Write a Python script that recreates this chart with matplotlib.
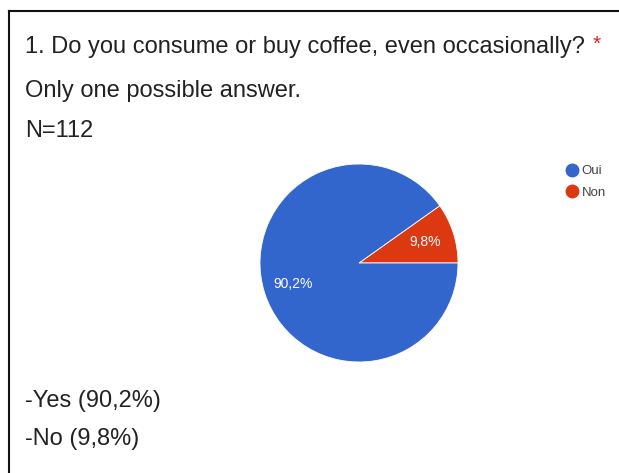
import matplotlib
matplotlib.use("Agg")
import matplotlib.pyplot as plt
from matplotlib.lines import Line2D

plt.rcParams['font.family'] = ['Liberation Sans', 'DejaVu Sans']

# survey answers (N=112)
labels = ['Oui', 'Non']
counts = [101, 11]
colors = ['#3366CC', '#DC3912']
question = '1. Do you consume or buy coffee, even occasionally?'
lines_top = ['Only one possible answer.', 'N=112']
lines_bottom = ['-Yes (90,2%)', '-No (9,8%)']

W, H = 619, 473
fig = plt.figure(figsize=(W / 100, H / 100), dpi=100)
fig.patch.set_facecolor('white')

def px(x, y):
    # pixel coords (from top-left) -> figure fraction
    return x / W, 1 - y / H

# box frame: top and left edges only visible
fig.add_artist(Line2D([px(9, 0)[0], 1.0], [px(0, 11)[1]] * 2, color='#111111', lw=1.5))
fig.add_artist(Line2D([px(9, 0)[0]] * 2, [px(0, 11)[1], 0.0], color='#111111', lw=1.5))

txt_color = '#222222'
fs = 17
fig.text(*px(25, 53), question, fontsize=fs, color=txt_color, va='baseline')
fig.text(*px(593, 50), '*', fontsize=15, color='#E02020', va='baseline')
fig.text(*px(25, 97), lines_top[0], fontsize=fs, color=txt_color, va='baseline')
fig.text(*px(25, 137), lines_top[1], fontsize=fs, color=txt_color, va='baseline')
fig.text(*px(25, 407), lines_bottom[0], fontsize=fs, color=txt_color, va='baseline')
fig.text(*px(25, 445), lines_bottom[1], fontsize=fs, color=txt_color, va='baseline')

# pie: centre (359, 263), radius 99 px
cx, cy, r = 359, 263, 99
ax = fig.add_axes([(cx - r) / W, (H - cy - r) / H, 2 * r / W, 2 * r / H])
order = [1, 0]  # red slice starts at 3 o'clock going counter-clockwise
wedges, _, autotexts = ax.pie([counts[i] for i in order],
                              colors=[colors[i] for i in order],
                              startangle=0, counterclock=True,
                              autopct=lambda p: f'{p:.1f}%'.replace('.', ','),
                              pctdistance=0.7,
                              wedgeprops=dict(linewidth=0.6, edgecolor='white'),
                              textprops=dict(color='white', fontsize=10))
ax.set_xlim(-1, 1)
ax.set_ylim(-1, 1)
ax.set_aspect('equal')

handles = [Line2D([], [], marker='o', ls='', markersize=9,
                  markerfacecolor=c, markeredgecolor=c) for c in colors]
leg = fig.legend(handles, labels, loc='upper left', bbox_to_anchor=px(566, 165),
                 frameon=False, fontsize=9.5, handletextpad=0.3,
                 handlelength=0.9, labelspacing=0.7, borderpad=0, borderaxespad=0)
for tx in leg.get_texts():
    tx.set_color('#444444')

fig.savefig('out.png', dpi=100)
